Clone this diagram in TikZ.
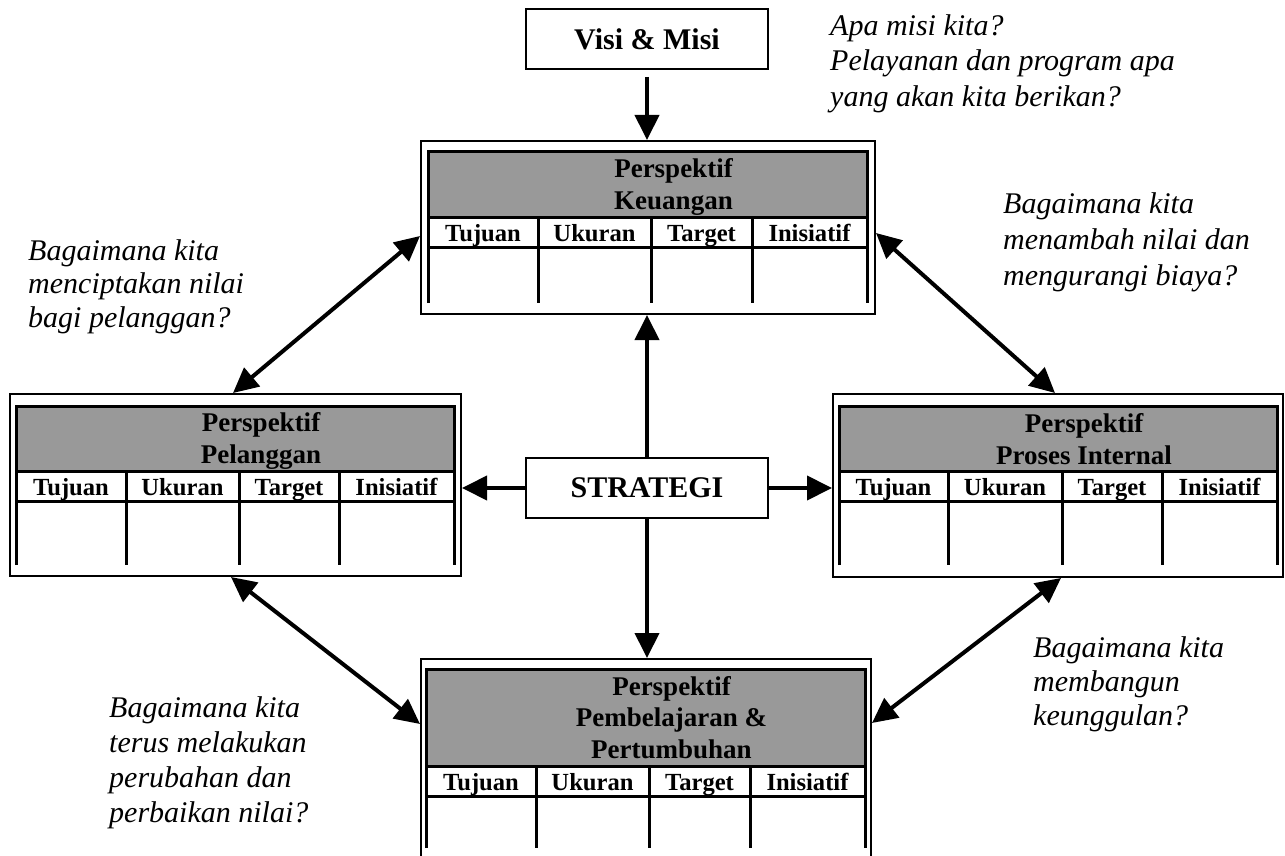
\documentclass[tikz,border=0pt]{standalone}
\usepackage{fontspec}
\setmainfont{Liberation Serif}
\usetikzlibrary{arrows.meta}

% stacked lines whose first baseline is the box baseline
\newcommand\clines[2]{\vtop{\baselineskip=#1\halign{\hfil##\hfil\cr#2\crcr}}}
\newcommand\llines[2]{\vtop{\baselineskip=#1\halign{##\hfil\cr#2\crcr}}}

\definecolor{hgrey}{RGB}{153,153,153}

\tikzset{
  outerbox/.style={draw, line width=2pt, inner sep=0pt},
  tline/.style={line width=3pt, line join=miter},
  hdr/.style={font=\fontsize{24.6}{28}\selectfont\bfseries, anchor=base, inner sep=0pt},
  ttl/.style={font=\fontsize{27}{32}\selectfont\bfseries, anchor=base, inner sep=0pt},
  ask/.style={font=\fontsize{30}{34}\selectfont\itshape, anchor=base west, inner sep=0pt},
  keybox/.style={draw, line width=2pt, font=\fontsize{30}{34}\selectfont\bfseries,
    minimum width=242pt, minimum height=60pt, inner sep=0pt},
  arr/.style={line width=4pt, -{Triangle[length=25pt,width=24pt]}},
  darr/.style={line width=4pt, {Triangle[length=25pt,width=24pt]}-{Triangle[length=25pt,width=24pt]}},
}

% measure table: left, right, top, header bottom, label-row bottom, column end, three dividers
\newcommand\ptable[9]{%
  \fill[hgrey] (#1,#3) rectangle (#2,#4);
  \draw[tline] (#1,#6) -- (#1,#3) -- (#2,#3) -- (#2,#6);
  \draw[tline] (#1,#4) -- (#2,#4) (#1,#5) -- (#2,#5);
  \draw[tline] (#7,#4) -- (#7,#6) (#8,#4) -- (#8,#6) (#9,#4) -- (#9,#6);
  \node[hdr] (\pn-tujuan) at ({(#1+#7)/2},{#5-6}) {Tujuan};
  \node[hdr] (\pn-ukuran) at ({(#7+#8)/2},{#5-6}) {Ukuran};
  \node[hdr] (\pn-target) at ({(#8+#9)/2},{#5-6}) {Target};
  \node[hdr] (\pn-inisiatif) at ({(#9+#2)/2},{#5-6}) {Inisiatif};
}

\begin{document}
\begin{tikzpicture}[x=1pt, y=-1pt]
\useasboundingbox (0,0) rectangle (1285,856);

% outer frames
\node[outerbox, minimum width=454pt, minimum height=173pt] (keu) at (648,227.5) {};
\node[outerbox, minimum width=451pt, minimum height=182pt] (pel) at (235.5,485) {};
\node[outerbox, minimum width=450pt, minimum height=183pt] (pros) at (1058,485.5) {};
\node[outerbox, minimum width=450pt, minimum height=201pt] (pemb) at (646,759.5) {};

% tables
\def\pn{keu}
\ptable{428}{867}{152}{217}{247}{303}{538}{651}{752}
\node[ttl] (keu-title) at (673.5,178) {\clines{32pt}{Perspektif\cr Keuangan}};

\def\pn{pel}
\ptable{16}{454}{406}{471}{501}{565}{126}{239}{339}
\node[ttl] (pel-title) at (261,431.7) {\clines{32pt}{Perspektif\cr Pelanggan}};

\def\pn{pros}
\ptable{839}{1277}{406}{471}{501}{565}{948}{1062}{1162}
\node[ttl] (pros-title) at (1084,432) {\clines{32pt}{Perspektif\cr Proses Internal}};

\def\pn{pemb}
\ptable{426}{865}{669}{766}{796}{848}{536}{649}{750}
\node[ttl] (pemb-title) at (671.5,695) {\clines{31.5pt}{Perspektif\cr Pembelajaran \&\cr Pertumbuhan}};

% central boxes
\node[keybox] (visi) at (647,39) {Visi \& Misi};
\node[keybox] (strat) at (647,488) {STRATEGI};

% connectors
\draw[arr, shorten <=7pt] (visi.south) -- (visi.south |- keu.north);
\draw[arr] (strat.north) -- (strat.north |- keu.south);
\draw[arr] (strat.south) -- (strat.south |- pemb.north);
\draw[arr] (strat.west) -- (strat.west -| pel.east);
\draw[arr] (strat.east) -- (strat.east -| pros.west);

\draw[darr] ([yshift=-8.5pt]keu.west) -- ([xshift=-2.5pt]pel.north);
\draw[darr] ([yshift=-5.5pt]keu.east) -- ([xshift=-3pt]pros.north);
\draw[darr] ([xshift=-4.5pt]pel.south) -- ([yshift=35.5pt]pemb.west);
\draw[darr] ([xshift=3pt]pros.south) -- ([yshift=36.5pt]pemb.east);

% guiding questions
\node[ask] (q-misi) at (830,35.5) {\llines{35.5pt}{Apa misi kita?\cr Pelayanan dan program apa\cr yang akan kita berikan?}};
\node[ask] (q-keu) at (1003,213) {\llines{36pt}{Bagaimana kita\cr menambah nilai dan\cr mengurangi biaya?}};
\node[ask] (q-pel) at (28,260) {\llines{33.5pt}{Bagaimana kita\cr menciptakan nilai\cr bagi pelanggan?}};
\node[ask] (q-pemb) at (109,717) {\llines{35.3pt}{Bagaimana kita\cr terus melakukan\cr perubahan dan\cr perbaikan nilai?}};
\node[ask] (q-pros) at (1033,657) {\llines{34pt}{Bagaimana kita\cr membangun\cr keunggulan?}};
\end{tikzpicture}
\end{document}
